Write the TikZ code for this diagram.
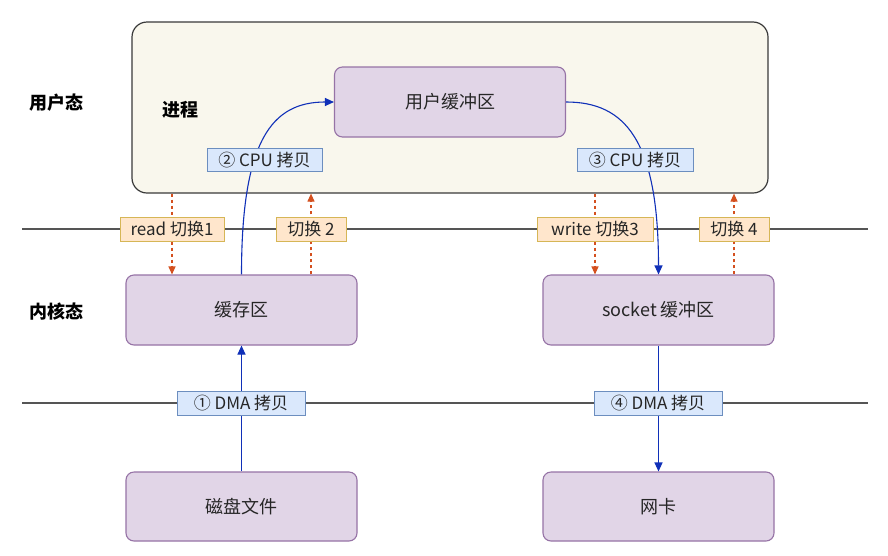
\documentclass[tikz,border=0pt]{standalone}
\usepackage{fontspec}
\setmainfont{Noto Sans CJK SC}
\usetikzlibrary{arrows.meta,decorations.pathmorphing}
\definecolor{procfill}{HTML}{F9F7ED}
\definecolor{procline}{HTML}{3A3A3A}
\definecolor{purfill}{HTML}{E1D5E7}
\definecolor{purline}{HTML}{9673A6}
\definecolor{bluefill}{HTML}{DAE8FC}
\definecolor{blueline}{HTML}{6C8EBF}
\definecolor{orfill}{HTML}{FFE6CC}
\definecolor{orline}{HTML}{D6B656}
\definecolor{arrblue}{HTML}{1030B8}
\definecolor{arror}{HTML}{D4501F}
\definecolor{sepline}{HTML}{555555}
\begin{document}
\begin{tikzpicture}[x=1pt,y=-1pt,
  txt/.style={font=\fontsize{18}{20}\selectfont, text=black!85},
  wob/.style={decorate, decoration={random steps, segment length=5pt, amplitude=0.35pt}},
  procbox/.style={draw=procline, fill=procfill, line width=1.2pt, rounded corners=15pt, minimum width=636pt, minimum height=171pt},
  purbox/.style={draw=purline, fill=purfill, line width=1.1pt, rounded corners=8pt, minimum width=231pt, minimum height=70pt, txt},
  bluelab/.style={draw=blueline, fill=bluefill, line width=0.9pt, inner sep=0pt, minimum height=23pt, txt, font=\fontsize{17}{19}\selectfont},
  orlab/.style={draw=orline, fill=orfill, line width=0.9pt, inner sep=0pt, minimum height=24pt, txt, font=\fontsize{17}{19}\selectfont},
  statelab/.style={font=\fontsize{18}{20}\selectfont\bfseries, text=black},
  flow/.style={draw=arrblue, line width=1.1pt, -{Triangle[length=9pt,width=8pt]}},
  sw/.style={draw=arror, line width=1.1pt, dash pattern=on 3pt off 3pt, -{Triangle[length=8pt,width=7pt]}},
  sep/.style={draw=sepline, line width=1.1pt}]
\useasboundingbox (0,0) rectangle (888,555);
\fill[white] (0,0) rectangle (888,555);

% separator lines
\coordinate (l1a) at (22,229);
\coordinate (l1b) at (868,229);
\coordinate (l2a) at (22,403);
\coordinate (l2b) at (868,403);
\draw[sep] (l1a) -- (l1b);
\draw[sep] (l2a) -- (l2b);

% main boxes
\node[procbox] (proc) at (450,107.5) {};
\node[purbox] (ubuf) at (450,102) {用户缓冲区};
\node[purbox] (cache) at (241.5,310) {缓存区};
\node[purbox] (sock) at (658.5,310) {socket 缓冲区};
\node[purbox, minimum height=69pt] (disk) at (241.5,506.5) {磁盘文件};
\node[purbox, minimum height=69pt] (nic) at (658.5,506.5) {网卡};

% state labels
\node[statelab] (us) at (56,103) {用户态};
\node[statelab] (proclab) at (180,110) {进程};
\node[statelab] (ks) at (56,312) {内核态};

% switch label positions
\coordinate (s1) at (172,229);
\coordinate (s2) at (311,229);
\coordinate (s3) at (595,229);
\coordinate (s4) at (734,229);

% switch arrows (dashed)
\draw[sw] (s1 |- proc.south) -- (s1 |- cache.north);
\draw[sw] (s2 |- cache.north) -- (s2 |- proc.south);
\draw[sw] (s3 |- proc.south) -- (s3 |- sock.north);
\draw[sw] (s4 |- sock.north) -- (s4 |- proc.south);

% copy arrows
\draw[flow] (cache.north) .. controls (241.5,140) and (272,102) .. (ubuf.west);
\draw[flow] (ubuf.east) .. controls (625,102) and (658.5,140) .. (sock.north);
\draw[flow] (disk.north) -- (cache.south);
\draw[flow] (sock.south) -- (nic.north);

% copy labels
\node[bluelab, minimum width=115pt] (c2) at (264.5,160) {② CPU 拷贝};
\node[bluelab, minimum width=116pt] (c3) at (635,160) {③ CPU 拷贝};
\node[bluelab, minimum width=128pt, minimum height=24pt] (c1) at (241,403) {① DMA 拷贝};
\node[bluelab, minimum width=128pt, minimum height=24pt] (c4) at (658,403) {④ DMA 拷贝};

% switch labels
\node[orlab, minimum width=104pt] (r1) at (s1) {read 切换1};
\node[orlab, minimum width=70pt] (r2) at (s2) {切换 2};
\node[orlab, minimum width=116pt] (r3) at (s3) {write 切换3};
\node[orlab, minimum width=70pt] (r4) at (s4) {切换 4};
\end{tikzpicture}
\end{document}
